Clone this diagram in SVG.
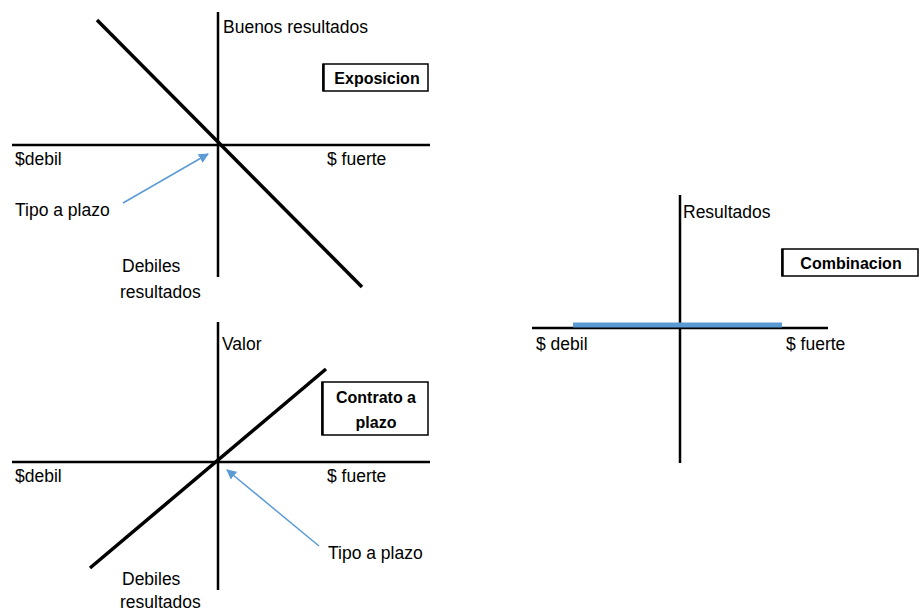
<svg xmlns="http://www.w3.org/2000/svg" width="920" height="612" viewBox="0 0 920 612">
<defs>
<marker id="ah" viewBox="0 0 10 10" refX="9" refY="5" markerWidth="10" markerHeight="10" markerUnits="userSpaceOnUse" orient="auto">
<path d="M0,0 L10,5 L0,10 z" fill="#5B9BD5"/>
</marker>
<style>
.ax{stroke:#000;stroke-width:2.5;fill:none}
.dg{stroke:#000;stroke-width:3.5;fill:none}
.ar{stroke:#5B9BD5;stroke-width:1.5;fill:none}
.t{font-family:"Liberation Sans",Arial,sans-serif;font-size:17.5px;fill:#000}
.b{font-family:"Liberation Sans",Arial,sans-serif;font-size:16px;font-weight:bold;fill:#000;text-anchor:middle}
.bx{fill:#fff;stroke:#000;stroke-width:1.5}
</style>
</defs>
<rect width="920" height="612" fill="#fff"/>
<g id="connectors">
<line class="ax" x1="218" y1="12" x2="218" y2="277"/>
<line class="ax" x1="12" y1="145" x2="430" y2="145"/>
<line class="dg" x1="97" y1="20" x2="362" y2="287"/>
<line class="ar" x1="123" y1="203" x2="208" y2="154" marker-end="url(#ah)"/>
<line class="ax" x1="218" y1="322" x2="218" y2="590"/>
<line class="ax" x1="12" y1="462" x2="430" y2="462"/>
<line class="dg" x1="90" y1="568" x2="326" y2="369"/>
<line class="ar" x1="319" y1="546" x2="227" y2="470" marker-end="url(#ah)"/>
<line class="ax" x1="680" y1="195" x2="680" y2="463"/>
<line class="ax" x1="532" y1="328" x2="828" y2="328"/>
<line x1="573" y1="325" x2="782" y2="325" stroke="#5B9BD5" stroke-width="5"/>
</g>
<g id="top-labels">
<text class="t" x="223" y="33">Buenos resultados</text>
<text class="t" x="15" y="165">$debil</text>
<text class="t" x="327" y="165">$ fuerte</text>
<text class="t" x="15" y="216">Tipo a plazo</text>
<text class="t" x="122" y="272">Debiles</text>
<text class="t" x="120" y="298">resultados</text>
</g>
<g id="exposicion">
<rect class="bx" x="323" y="64" width="105" height="27"/>
<line x1="323.5" y1="64" x2="323.5" y2="91" stroke="#000" stroke-width="2.5"/>
<text class="b" x="377" y="84">Exposicion</text>
</g>
<g id="bottom-labels">
<text class="t" x="222" y="350">Valor</text>
<text class="t" x="15" y="482">$debil</text>
<text class="t" x="327" y="482">$ fuerte</text>
<text class="t" x="328" y="559">Tipo a plazo</text>
<text class="t" x="122" y="585">Debiles</text>
<text class="t" x="120" y="608">resultados</text>
</g>
<g id="contrato">
<rect class="bx" x="322" y="382" width="106" height="53"/>
<line x1="322.5" y1="382" x2="322.5" y2="435" stroke="#000" stroke-width="2.5"/>
<text class="b" x="376" y="403">Contrato a</text>
<text class="b" x="376" y="428">plazo</text>
</g>
<g id="right-labels">
<text class="t" x="683" y="218">Resultados</text>
<text class="t" x="536" y="350">$ debil</text>
<text class="t" x="786" y="350">$ fuerte</text>
</g>
<g id="combinacion">
<rect class="bx" x="782" y="249" width="136" height="27"/>
<line x1="782.5" y1="249" x2="782.5" y2="276" stroke="#000" stroke-width="2.5"/>
<text class="b" x="851" y="269">Combinacion</text>
</g>
</svg>
